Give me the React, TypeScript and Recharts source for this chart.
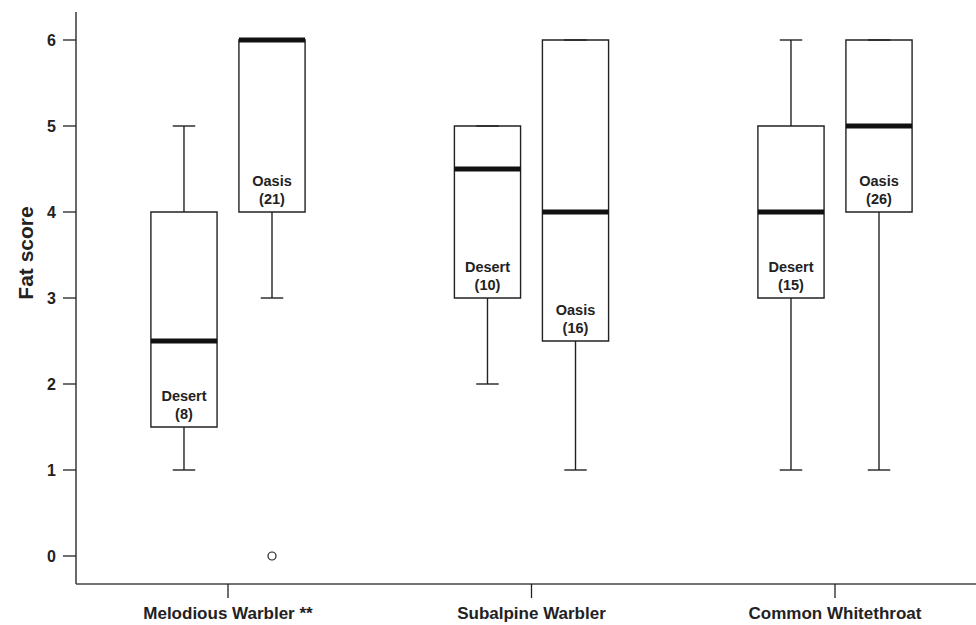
import React from 'react';
import {
  ComposedChart,
  XAxis,
  YAxis,
  Scatter,
  ReferenceArea,
  ReferenceLine,
} from 'recharts';

// species along the x axis, two habitats per species
const species = ['Melodious Warbler **', 'Subalpine Warbler', 'Common Whitethroat'];
const habitats = ['Desert', 'Oasis'];

// one entry per box: Melodious D/O, Subalpine D/O, Whitethroat D/O
const boxSpecies = [0, 0, 1, 1, 2, 2];
const boxHabitat = [0, 1, 0, 1, 0, 1];
const sampleSizes = [8, 21, 10, 16, 15, 26];
const whiskerLow = [1, 3, 2, 1, 1, 1];
const quartile1 = [1.5, 4, 3, 2.5, 3, 4];
const medians = [2.5, 6, 4.5, 4, 4, 5];
const quartile3 = [4, 6, 5, 6, 5, 6];
const whiskerHigh = [5, 6, 5, 6, 6, 6];

// outliers
const outlierBox = [1];
const outlierValues = [0];

const yTicks = [0, 1, 2, 3, 4, 5, 6];

const FONT = '"Liberation Sans", Arial, Helvetica, sans-serif';
const INK = '#222';
const HABITAT_OFFSET = [-0.145, 0.145];
const BOX_HALF = 0.109;
const CAP_HALF = 0.037;

const boxes = sampleSizes.map((n, i) => ({
  x: boxSpecies[i] + 1 + HABITAT_OFFSET[boxHabitat[i]],
  n,
  habitat: habitats[boxHabitat[i]],
  lo: whiskerLow[i],
  q1: quartile1[i],
  med: medians[i],
  q3: quartile3[i],
  hi: whiskerHigh[i],
}));

const labelPoints = boxes.map((b) => ({ x: b.x, y: b.q1, habitat: b.habitat, n: b.n }));
const outlierPoints = outlierBox.map((bi, i) => ({ x: boxes[bi].x, y: outlierValues[i] }));

const BoxLabel = (props: any) => {
  const { cx, cy, payload } = props;
  if (cx == null || cy == null) return null;
  return (
    <g>
      <text x={cx} y={cy - 26} textAnchor="middle" fontFamily={FONT} fontWeight="bold" fontSize={14.5} fill={INK}>
        {payload.habitat}
      </text>
      <text x={cx} y={cy - 8} textAnchor="middle" fontFamily={FONT} fontWeight="bold" fontSize={14.5} fill={INK}>
        ({payload.n})
      </text>
    </g>
  );
};

const OutlierDot = (props: any) => {
  const { cx, cy } = props;
  if (cx == null || cy == null) return null;
  return <circle cx={cx} cy={cy} r={4} fill="#fff" stroke={INK} strokeWidth={1.2} />;
};

const YLabel = (props: any) => {
  const vb = props.viewBox || { x: 0, y: 12 };
  const x = vb.x + 25;
  const y = vb.y + 241;
  return (
    <text
      x={x}
      y={y}
      transform={`rotate(-90, ${x}, ${y})`}
      textAnchor="middle"
      dominantBaseline="central"
      fontFamily={FONT}
      fontWeight="bold"
      fontSize={21}
      fill={INK}
    >
      Fat score
    </text>
  );
};

export default function App() {
  const line = { stroke: INK, strokeWidth: 1.4 };
  return (
    <div style={{ position: 'absolute', left: 0, top: 0, background: '#fff' }}>
      <ComposedChart width={976} height={625} margin={{ top: 12, right: 0, bottom: 0, left: 0 }}>
        <XAxis
          type="number"
          dataKey="x"
          domain={[0.4992, 3.4646]}
          allowDataOverflow
          ticks={[1, 2, 3]}
          interval={0}
          tickFormatter={(v: number) => species[Math.round(v) - 1]}
          height={41}
          tickSize={14}
          tickMargin={9}
          axisLine={{ stroke: '#444', strokeWidth: 1.6 }}
          tickLine={{ stroke: INK, strokeWidth: 1.3 }}
          tick={{ fontSize: 17, fontWeight: 'bold', fill: INK, fontFamily: FONT }}
        />
        <YAxis
          type="number"
          dataKey="y"
          domain={[-0.3256, 6.3256]}
          allowDataOverflow
          ticks={yTicks}
          interval={0}
          width={76}
          tickSize={13}
          tickMargin={7}
          axisLine={{ stroke: '#444', strokeWidth: 1.6 }}
          tickLine={{ stroke: INK, strokeWidth: 1.3 }}
          tick={{ fontSize: 16, fontWeight: 'bold', fill: INK, fontFamily: FONT }}
          label={{ content: YLabel }}
        />

        {boxes.map((b, i) => (
          <ReferenceArea
            key={`box-${i}`}
            x1={b.x - BOX_HALF}
            x2={b.x + BOX_HALF}
            y1={b.q1}
            y2={b.q3}
            fill="#fff"
            fillOpacity={1}
            stroke={INK}
            strokeWidth={1.4}
            ifOverflow="visible"
          />
        ))}
        {boxes.map((b, i) => (
          <ReferenceLine
            key={`wl-${i}`}
            segment={[{ x: b.x, y: b.lo }, { x: b.x, y: b.q1 }]}
            {...line}
            ifOverflow="visible"
          />
        ))}
        {boxes.map((b, i) => (
          <ReferenceLine
            key={`wh-${i}`}
            segment={[{ x: b.x, y: b.q3 }, { x: b.x, y: b.hi }]}
            {...line}
            ifOverflow="visible"
          />
        ))}
        {boxes.map((b, i) => (
          <ReferenceLine
            key={`cl-${i}`}
            segment={[{ x: b.x - CAP_HALF, y: b.lo }, { x: b.x + CAP_HALF, y: b.lo }]}
            {...line}
            ifOverflow="visible"
          />
        ))}
        {boxes.map((b, i) => (
          <ReferenceLine
            key={`ch-${i}`}
            segment={[{ x: b.x - CAP_HALF, y: b.hi }, { x: b.x + CAP_HALF, y: b.hi }]}
            {...line}
            ifOverflow="visible"
          />
        ))}
        {boxes.map((b, i) => (
          <ReferenceLine
            key={`med-${i}`}
            segment={[{ x: b.x - BOX_HALF, y: b.med }, { x: b.x + BOX_HALF, y: b.med }]}
            stroke="#111"
            strokeWidth={5}
            ifOverflow="visible"
          />
        ))}

        <Scatter data={labelPoints} dataKey="y" shape={BoxLabel} isAnimationActive={false} />
        <Scatter data={outlierPoints} dataKey="y" shape={OutlierDot} isAnimationActive={false} />
      </ComposedChart>
    </div>
  );
}
